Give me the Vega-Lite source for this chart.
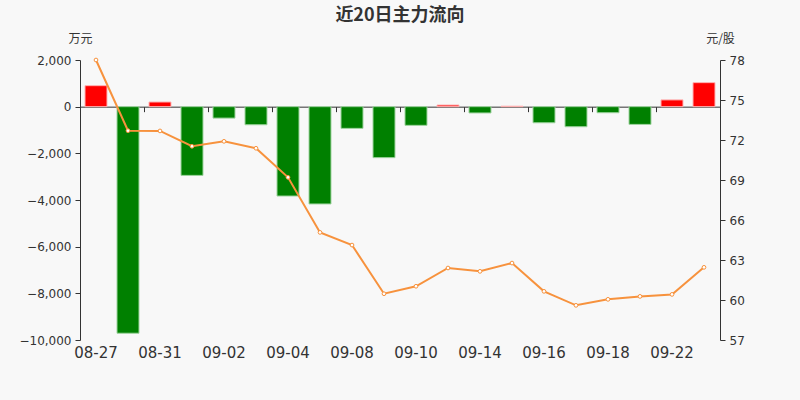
{
  "$schema": "https://vega.github.io/schema/vega-lite/v6.json",
  "width": 640,
  "height": 280,
  "autosize": {"type": "none"},
  "padding": {"left": 80, "top": 60, "right": 80, "bottom": 60},
  "background": "#f8f8f8",
  "title": {"text": "近20日主力流向", "font": "Noto Sans CJK SC", "fontSize": 18, "fontWeight": "bold", "color": "#333333", "anchor": "middle", "frame": "group", "offset": 7},
  "config": {
    "view": {"stroke": null},
    "axis": {"labelFont": "DejaVu Sans", "labelColor": "#333333", "domainColor": "#333333", "tickColor": "#333333", "grid": false, "titleFont": "Noto Sans CJK SC", "titleColor": "#333333", "titleFontWeight": "normal", "titleFontSize": 12}
  },
  "data": {"values": [
    {"date": "08-27", "flow": 900, "price": 78.0},
    {"date": "08-28", "flow": -9710, "price": 72.7},
    {"date": "08-31", "flow": 200, "price": 72.68},
    {"date": "09-01", "flow": -2945, "price": 71.53},
    {"date": "09-02", "flow": -490, "price": 71.9},
    {"date": "09-03", "flow": -775, "price": 71.38},
    {"date": "09-04", "flow": -3830, "price": 69.2},
    {"date": "09-07", "flow": -4170, "price": 65.07},
    {"date": "09-08", "flow": -930, "price": 64.12},
    {"date": "09-09", "flow": -2185, "price": 60.47},
    {"date": "09-10", "flow": -800, "price": 61.03},
    {"date": "09-11", "flow": 70, "price": 62.4},
    {"date": "09-14", "flow": -270, "price": 62.15},
    {"date": "09-15", "flow": 20, "price": 62.77},
    {"date": "09-16", "flow": -690, "price": 60.65},
    {"date": "09-17", "flow": -860, "price": 59.6},
    {"date": "09-18", "flow": -260, "price": 60.05},
    {"date": "09-21", "flow": -760, "price": 60.27},
    {"date": "09-22", "flow": 290, "price": 60.42},
    {"date": "09-23", "flow": 1030, "price": 62.45}
  ]},
  "layer": [
    {
      "mark": {"type": "bar", "width": 22, "strokeWidth": 1},
      "encoding": {
        "x": {"field": "date", "type": "ordinal", "sort": null,
              "scale": {"paddingInner": 0, "paddingOuter": 0},
              "axis": {"orient": "bottom", "title": null, "labelAngle": 0, "labelFontSize": 15, "labelPadding": 5, "ticks": false, "domain": false,
                       "values": ["08-27", "08-31", "09-02", "09-04", "09-08", "09-10", "09-14", "09-16", "09-18", "09-22"]}},
        "y": {"field": "flow", "type": "quantitative",
              "scale": {"domain": [-10000, 2000], "nice": false, "zero": true},
              "axis": {"orient": "left", "values": [-10000, -8000, -6000, -4000, -2000, 0, 2000], "format": ",.0f", "labelFontSize": 12, "tickSize": 5, "labelPadding": 4,
                       "title": "万元", "titleAngle": 0, "titleAlign": "center", "titleBaseline": "middle", "titleX": 0, "titleY": -22}},
        "color": {"condition": {"test": "datum.flow >= 0", "value": "#ff0000"}, "value": "#008000"},
        "stroke": {"condition": {"test": "datum.flow >= 0", "value": "#ffb3b3"}, "value": "#9fd49f"}
      }
    },
    {
      "encoding": {
        "x": {"field": "date", "type": "ordinal", "sort": null,
              "axis": {"orient": "bottom", "title": null, "labels": false, "ticks": true, "tickSize": 5, "domain": true, "offset": -233.33, "bandPosition": 0,
                       "values": ["08-27", "08-31", "09-02", "09-04", "09-08", "09-10", "09-14", "09-16", "09-18", "09-22"]}},
        "y": {"field": "price", "type": "quantitative",
              "scale": {"domain": [57, 78], "nice": false, "zero": false},
              "axis": {"orient": "right", "values": [57, 60, 63, 66, 69, 72, 75, 78], "labelFontSize": 12, "tickSize": 5, "labelPadding": 4,
                       "title": "元/股", "titleAngle": 0, "titleAlign": "center", "titleBaseline": "middle", "titleX": 0, "titleY": -22}}
      },
      "layer": [
        {"mark": {"type": "line", "color": "#f7923d", "strokeWidth": 2}},
        {"mark": {"type": "point", "filled": true, "fill": "#ffffff", "stroke": "#f7923d", "strokeWidth": 1, "size": 14, "opacity": 1}}
      ]
    }
  ],
  "resolve": {"scale": {"y": "independent"}, "axis": {"x": "independent"}}
}
